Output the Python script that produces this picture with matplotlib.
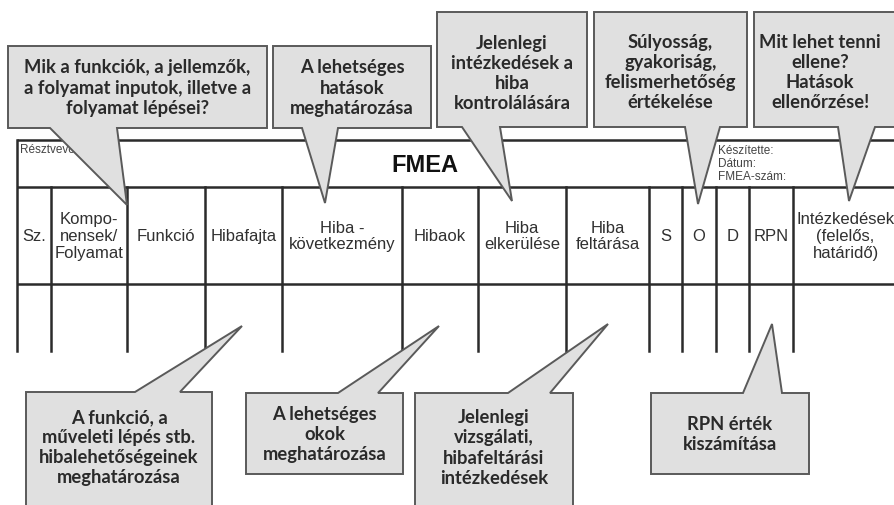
import matplotlib
matplotlib.use("Agg")
import matplotlib.pyplot as plt
from matplotlib.patches import Polygon

# ---- content ----
col_labels = ["Sz.", "Kompo-\nnensek/\nFolyamat", "Funkció", "Hibafajta",
              "Hiba -\nkövetkezmény", "Hibaok", "Hiba\nelkerülése", "Hiba\nfeltárása",
              "S", "O", "D", "RPN", "Intézkedések\n(felelős,\nhatáridő)"]
title_text = "FMEA"
participants_text = "Résztvevők:"
meta_text = "Készítette:\nDátum:\nFMEA-szám:"

top_callouts = [
    "Mik a funkciók, a jellemzők,\na folyamat inputok, illetve a\nfolyamat lépései?",
    "A lehetséges\nhatások\nmeghatározása",
    "Jelenlegi\nintézkedések a\nhiba\nkontrolálására",
    "Súlyosság,\ngyakoriság,\nfelismerhetőség\nértékelése",
    "Mit lehet tenni\nellene?\nHatások\nellenőrzése!",
]
bottom_callouts = [
    "A funkció, a\nműveleti lépés stb.\nhibalehetőségeinek\nmeghatározása",
    "A lehetséges\nokok\nmeghatározása",
    "Jelenlegi\nvizsgálati,\nhibafeltárási\nintézkedések",
    "RPN érték\nkiszámítása",
]

# ---- layout (pixel coordinates) ----
W, H = 894, 506
col_edges = [17, 51, 127, 205, 282, 402, 478, 566, 649, 682, 716, 749, 793, 898]
y_top, y_head, y_row, y_end = 141, 188, 285, 352

# boxes: (x0, x1, y0, y1, tail_left, tail_right, tip_x, tip_y, text_dx, text_dy)
top_geom = [
    (8, 267, 47, 129, 50, 117, 127, 206, 0, 0),
    (273, 431, 47, 129, 302, 338, 325, 204, 0, 0),
    (437, 587, 13, 128, 462, 500, 512, 202, 0, 3),
    (594, 747, 13, 128, 685, 720, 698, 205, 0, 2),
    (754, 905, 13, 128, 838, 875, 849, 202, -4, 2),
]
bot_geom = [
    (26, 212, 393, 512, 135, 180, 242, 327, 0, 0),
    (246, 403, 394, 475, 338, 378, 439, 327, 0, 0),
    (415, 573, 394, 512, 508, 550, 608, 325, 0, 0),
    (651, 809, 394, 475, 743, 782, 772, 325, 0, 0),
]

line_c = "#2b2b2b"
box_fc = "#e0e0e0"
box_ec = "#5a5a5a"
txt_c = "#2a2a2a"

fig = plt.figure(figsize=(W / 100, H / 100), dpi=100)
ax = fig.add_axes([0, 0, 1, 1])
ax.set_xlim(0, W)
ax.set_ylim(H, 0)
ax.axis("off")

# ---- table ----
lw = 1.8
for y in (y_top, y_head, y_row):
    ax.plot([col_edges[0], W], [y, y], color=line_c, lw=lw, zorder=1, solid_capstyle="butt")
ax.plot([col_edges[0], col_edges[0]], [y_top, y_end], color=line_c, lw=lw, zorder=1)
for x in col_edges[1:-1]:
    ax.plot([x, x], [y_head, y_end], color=line_c, lw=lw, zorder=1)

tfont = "Liberation Sans"
for i, lab in enumerate(col_labels):
    cx = (col_edges[i] + col_edges[i + 1]) / 2
    ax.text(cx, (y_head + y_row) / 2, lab, ha="center", va="center", fontsize=12,
            family=tfont, color="#303030", linespacing=1.15, zorder=2, clip_on=True)

ax.text(425, 165, title_text, ha="center", va="center", fontsize=17, fontweight="bold",
        family=tfont, color="#111111", zorder=2)
ax.text(20, 150, participants_text, ha="left", va="center", fontsize=8.5, family=tfont,
        color="#444444", zorder=2)
ax.text(718, 164, meta_text, ha="left", va="center", fontsize=8.5, family=tfont,
        color="#444444", linespacing=1.1, zorder=2)

# ---- callouts ----
cfont = "Lato"


def callout(g, text, tail_at_bottom):
    x0, x1, y0, y1, tl, tr, tx, ty, dx, dy = g
    if tail_at_bottom:
        verts = [(x0, y0), (x1, y0), (x1, y1), (tr, y1), (tx, ty), (tl, y1), (x0, y1)]
    else:
        verts = [(x0, y0), (tl, y0), (tx, ty), (tr, y0), (x1, y0), (x1, y1), (x0, y1)]
    p = Polygon(verts, closed=True, fc=box_fc, ec=box_ec, lw=1.4, zorder=3, joinstyle="miter")
    ax.add_patch(p)
    cx = (x0 + min(x1, W)) / 2 + dx
    cy = (y0 + min(y1, 502)) / 2 + dy
    ax.text(cx, cy, text, ha="center", va="center", fontsize=13.2,
            fontweight="bold", family=cfont, color=txt_c, linespacing=1.22, zorder=4)


for g, t in zip(top_geom, top_callouts):
    callout(g, t, True)
for g, t in zip(bot_geom, bottom_callouts):
    callout(g, t, False)

fig.savefig("out.png", dpi=100, facecolor="white")
